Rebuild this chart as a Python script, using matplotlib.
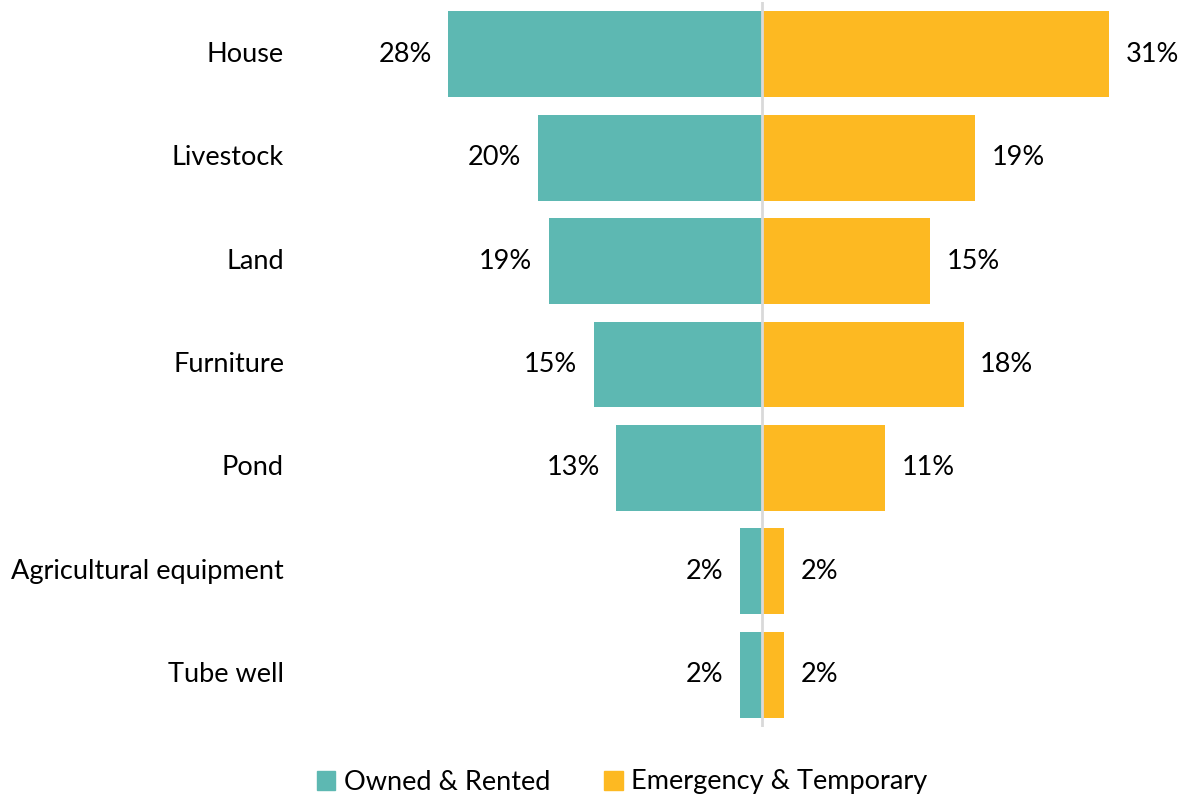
import matplotlib
matplotlib.use("Agg")
import matplotlib.pyplot as plt
from matplotlib.patches import Patch

plt.rcParams['font.family'] = ['Lato', 'DejaVu Sans']

categories = ["House", "Livestock", "Land", "Furniture", "Pond",
              "Agricultural equipment", "Tube well"]
owned = [28, 20, 19, 15, 13, 2, 2]
emergency = [31, 19, 15, 18, 11, 2, 2]
series_names = ["Owned & Rented", "Emergency & Temporary"]

teal = "#5DB8B2"
yellow = "#FDB922"

W, H = 1185, 799
fig = plt.figure(figsize=(W / 100, H / 100), dpi=100)
# axes: x from 370 px to 1154 px, y from 2 px to 727 px
ax = fig.add_axes([370 / W, 1 - 727 / H, (1154 - 370) / W, (727 - 2) / H])
ax.set_xlim(-35, 35)
ax.set_ylim(6.505, -0.505)

y = list(range(len(categories)))
bh = 0.83
ax.barh(y, [-v for v in owned], height=bh, color=teal, zorder=2)
ax.barh(y, emergency, height=bh, color=yellow, zorder=2)
ax.axvline(0, color="#D9D9D9", lw=2, zorder=3)

fs = 19.5
for i, (o, e) in enumerate(zip(owned, emergency)):
    ax.annotate(f"{o}%", xy=(-o, i), xytext=(-12, 0), textcoords="offset points",
                ha="right", va="center", fontsize=fs, color="#000000")
    ax.annotate(f"{e}%", xy=(e, i), xytext=(12, 0), textcoords="offset points",
                ha="left", va="center", fontsize=fs, color="#000000")

label_x = (284 - 370) / (1154 - 370)
for i, c in enumerate(categories):
    ax.text(label_x, i, c, transform=ax.get_yaxis_transform(), ha="right",
            va="center", fontsize=fs, color="#000000")

ax.set_yticks([])
ax.set_xticks([])
for s in ax.spines.values():
    s.set_visible(False)

handles = [Patch(color=teal), Patch(color=yellow)]
fig.legend(handles, series_names, loc="center", bbox_to_anchor=(622 / W, 1 - 782 / H),
           ncol=2, frameon=False, fontsize=fs, handlelength=0.7, handleheight=0.7,
           handletextpad=0.3, columnspacing=2.0)

fig.savefig("out.png", dpi=100)
